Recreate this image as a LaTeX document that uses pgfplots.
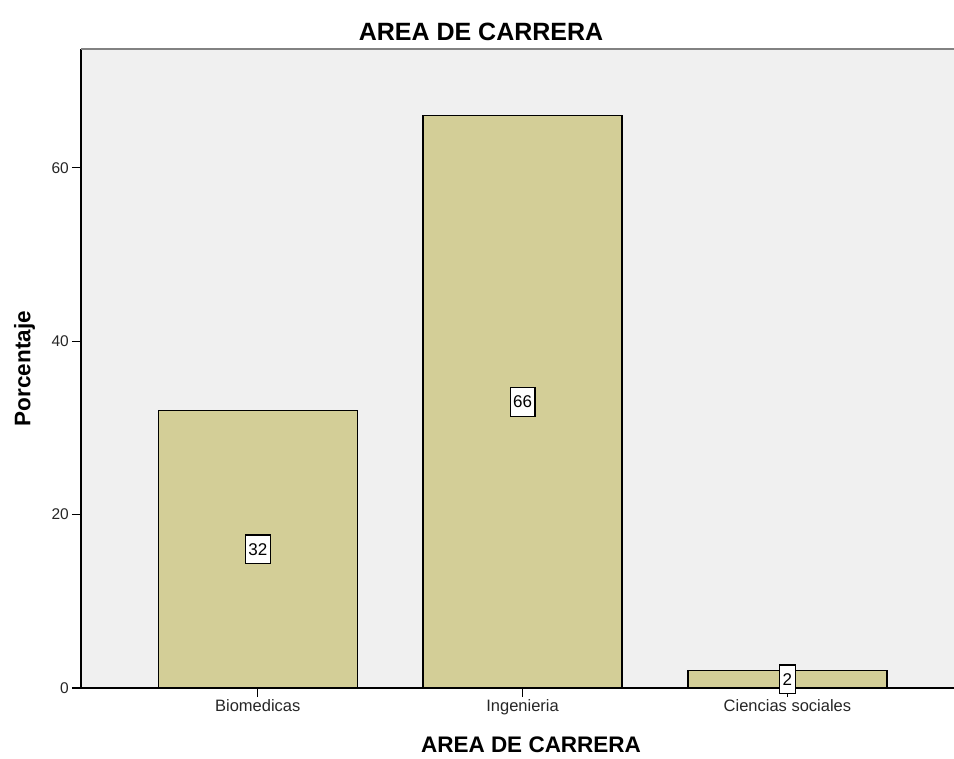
\documentclass[border=0pt]{standalone}
\usepackage{pgfplots}
\pgfplotsset{compat=1.18}
\usepackage{fontspec}
\setmainfont{Liberation Sans}
\definecolor{barcol}{RGB}{211,206,151}
\definecolor{bgcol}{RGB}{240,240,240}
\definecolor{topcol}{RGB}{130,130,130}
\begin{document}
\begin{tikzpicture}
\begin{axis}[
  scale only axis,
  width=873pt, height=639pt,
  xmin=-0.6675, xmax=2.629,
  ymin=0, ymax=73.7,
  clip=false,
  axis lines*=left,
  axis line style={line width=1.5pt, black},
  axis background/.style={fill=bgcol},
  xtick={0,1,2},
  xticklabels={Biomedicas,Ingenieria,Ciencias sociales},
  ytick={0,20,40,60},
  tick align=outside,
  major tick length=9pt,
  tick style={line width=1.3pt, black},
  /pgf/number format/assume math mode=true,
  ticklabel style={font=\fontsize{15.5}{18}\selectfont, text=black!85},
  xticklabel style={inner sep=2pt, font=\fontsize{16.5}{19}\selectfont},
  yticklabel style={inner sep=3pt},
  xlabel={AREA DE CARRERA},
  ylabel={Porcentaje},
  xlabel style={font=\fontsize{22.5}{26}\selectfont\bfseries, at={(axis description cs:0.5155,-0.0892)}, anchor=center},
  ylabel style={font=\fontsize{22.5}{26}\selectfont\bfseries, at={(axis description cs:-0.0645,0.5)}, anchor=center},
]
\addplot[ybar, fill=barcol, draw=black, line width=1.3pt, bar width=199pt,
  nodes near coords,
  visualization depends on={y \as \rawy},
  every node near coord/.append style={anchor=center, shift={(axis direction cs:0,-\rawy/2)},
    draw=black, fill=white, line width=1.2pt, inner xsep=3pt, inner ysep=0pt,
    minimum height=28.5pt, text=black,
    font=\fontsize{17}{20}\selectfont}
] coordinates {(0,32) (1,66) (2,2)};
\draw[topcol, line width=1.8pt] (rel axis cs:0,1) -- (rel axis cs:1,1);
\node[font=\fontsize{25}{30}\selectfont\bfseries, anchor=center] at (rel axis cs:0.4582,1.0266) {AREA DE CARRERA};
\coordinate (bbl) at (rel axis cs:-0.09278,-0.10955);
\coordinate (btr) at (rel axis cs:1,1.07668);
\end{axis}
\pgfresetboundingbox
\path[use as bounding box] (bbl) rectangle (btr);
\end{tikzpicture}
\end{document}
